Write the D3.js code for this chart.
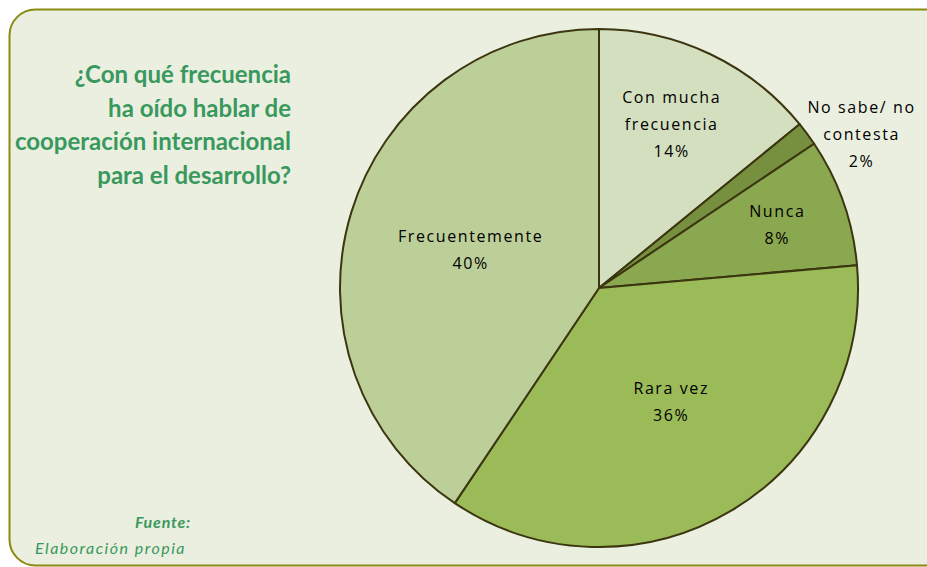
<!DOCTYPE html>
<html>
<head>
<meta charset="utf-8">
<script src="https://cdn.jsdelivr.net/npm/d3@7"></script>
<style>
  body { margin: 0; background: #fff; }
  svg { display: block; }
</style>
</head>
<body>
<svg id="chart"></svg>
<script>
var width = 927, height = 567;

// data, clockwise from 12 o'clock
var categories = ["Con mucha frecuencia", "No sabe/ no contesta", "Nunca", "Rara vez", "Frecuentemente"];
var values = [14.1, 1.5, 8.0, 35.8, 40.6];
var pctLabels = ["14%", "2%", "8%", "36%", "40%"];
var labelLines = [["Con mucha", "frecuencia"], ["No sabe/ no", "contesta"], ["Nunca"], ["Rara vez"], ["Frecuentemente"]];
var titleLines = ["¿Con qué frecuencia", "ha oído hablar de", "cooperación internacional", "para el desarrollo?"];

var colors = ["#d3dfbf", "#76903f", "#8aa84f", "#9bbb59", "#bccf99"];
// label placement: radius factor and a small nudge in px
var labelRadius = [0.70, 1.18, 0.73, 0.51, 0.51];
var labelNudge = [[-5, 0], [17, 28], [0, 0], [5, 0], [-2, 0]];

var svg = d3.select("#chart")
    .attr("width", width)
    .attr("height", height);

// panel
svg.append("rect")
    .attr("x", 9.5)
    .attr("y", 9.5)
    .attr("width", 960)
    .attr("height", 556)
    .attr("rx", 26)
    .attr("fill", "#ebefdf")
    .attr("stroke", "#8a8a12")
    .attr("stroke-width", 2);

var green = "#38985e";

svg.append("g")
    .selectAll("text")
    .data(titleLines)
    .join("text")
    .attr("x", 291)
    .attr("y", function (d, i) { return 83 + i * 33.5; })
    .attr("text-anchor", "end")
    .attr("font-family", "Lato, 'Open Sans', sans-serif")
    .attr("font-weight", "bold")
    .attr("font-size", 24)
    .attr("fill", green)
    .text(function (d) { return d; });

svg.append("text")
    .attr("x", 191)
    .attr("y", 528)
    .attr("text-anchor", "end")
    .attr("font-family", "Lato, 'Open Sans', sans-serif")
    .attr("font-weight", "bold")
    .attr("font-style", "italic")
    .attr("font-size", 16)
    .attr("letter-spacing", 0.8)
    .attr("fill", green)
    .text("Fuente:");

svg.append("text")
    .attr("x", 35)
    .attr("y", 554)
    .attr("font-family", "Lato, 'Open Sans', sans-serif")
    .attr("font-style", "italic")
    .attr("font-size", 16)
    .attr("letter-spacing", 1.5)
    .attr("fill", green)
    .text("Elaboración propia");

// pie
var cx = 599, cy = 288, r = 259;

var pie = d3.pie().sort(null).value(function (d) { return d; });
var arcs = pie(values);
var arc = d3.arc().innerRadius(0).outerRadius(r);

var g = svg.append("g")
    .attr("transform", "translate(" + cx + "," + cy + ")");

g.selectAll("path")
    .data(arcs)
    .join("path")
    .attr("d", arc)
    .attr("fill", function (d, i) { return colors[i]; })
    .attr("stroke", "#3b3510")
    .attr("stroke-width", 2)
    .attr("stroke-linejoin", "round");

var lineH = 27;
arcs.forEach(function (a, i) {
    var lr = r * labelRadius[i];
    var c = d3.arc().innerRadius(lr).outerRadius(lr).centroid(a);
    var x = c[0] + labelNudge[i][0], y = c[1] + labelNudge[i][1];
    var lines = labelLines[i].concat([pctLabels[i]]);
    var top = y - (lines.length - 1) * lineH / 2;
    var t = g.append("text")
        .attr("text-anchor", "middle")
        .attr("font-family", "'Open Sans', sans-serif")
        .attr("font-size", 16)
        .attr("letter-spacing", 1.6)
        .attr("fill", "#000");
    lines.forEach(function (s, k) {
        t.append("tspan")
            .attr("x", x)
            .attr("y", top + k * lineH)
            .attr("dy", "0.35em")
            .text(s);
    });
});
</script>
</body>
</html>
